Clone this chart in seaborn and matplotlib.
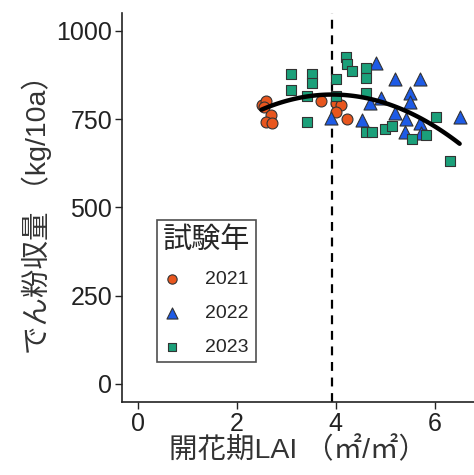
import matplotlib
matplotlib.use("Agg")
import matplotlib.pyplot as plt
import seaborn as sns
import pandas as pd

# 2021
x2021 = [2.50, 2.60, 2.55, 2.70, 2.60, 2.72, 3.71, 4.01, 4.11, 4.01, 4.22]
y2021 = [790, 800, 785, 762, 743, 740, 802, 795, 790, 771, 751]
# 2022
x2022 = [3.91, 4.82, 5.19, 5.70, 5.49, 5.49, 4.92, 4.69, 4.52, 5.19, 5.41, 5.70, 5.39, 5.73, 6.50]
y2022 = [752, 910, 863, 863, 823, 797, 809, 795, 748, 767, 750, 738, 712, 710, 755]
# 2023
x2023 = [3.10, 3.51, 3.51, 3.10, 3.41, 3.41, 4.01, 4.01, 4.20, 4.22, 4.32, 4.61, 4.61, 4.61,
         4.61, 4.74, 4.99, 5.13, 5.53, 5.82, 6.02, 6.30]
y2023 = [877, 877, 852, 833, 814, 743, 863, 814, 927, 906, 885, 894, 866, 823,
         712, 712, 721, 729, 693, 705, 755, 630]

years = ["2021", "2022", "2023"]
colors = ["#E8561E", "#1E5BE6", "#1BA07A"]
markers = ["o", "^", "s"]
sizes = [62, 88, 58]

xticks = [0, 2, 4, 6]
yticks = [0, 250, 500, 750, 1000]
vline_x = 3.93

df = pd.DataFrame({
    "LAI": x2021 + x2022 + x2023,
    "yield": y2021 + y2022 + y2023,
    "year": ["2021"] * len(x2021) + ["2022"] * len(x2022) + ["2023"] * len(x2023),
})

sns.set_theme(style="ticks")
plt.rcParams["font.family"] = ["Liberation Sans", "Noto Sans CJK JP", "DejaVu Sans"]

fig = plt.figure(figsize=(4.74, 4.75), dpi=100)
ax = fig.add_axes([0.257, 0.154, 0.743, 0.819])

ax.axvline(vline_x, color="black", ls=(0, (4, 3)), lw=1.6, zorder=1)

for yr, c, m, s in zip(years, colors, markers, sizes):
    sub = df[df["year"] == yr]
    sns.scatterplot(data=sub, x="LAI", y="yield", color=c, marker=m, s=s,
                    edgecolor="#333333", linewidth=0.8, ax=ax, label=yr, zorder=3)

sns.regplot(data=df, x="LAI", y="yield", order=2, ci=None, scatter=False,
            color="black", line_kws={"lw": 3.2, "zorder": 4}, ax=ax)

ax.set_xlim(-0.32, 6.79)
ax.set_ylim(-51, 1051)
ax.set_xticks(xticks)
ax.set_yticks(yticks)
ax.tick_params(labelsize=18, colors="#222222", length=5, width=1, pad=2)
for sp in ["top", "right"]:
    ax.spines[sp].set_visible(False)
for sp in ["left", "bottom"]:
    ax.spines[sp].set_color("#222222")
    ax.spines[sp].set_linewidth(1.2)

ax.set_xlabel("開花期LAI （㎡/㎡）", fontsize=20.5, color="#333333", labelpad=1)
ax.set_ylabel("でん粉収量 （kg/10a）", fontsize=20.5, color="#333333", labelpad=3)

leg = ax.legend(title="試験年", loc="upper left", bbox_to_anchor=(0.099, 0.468),
                borderaxespad=0, fontsize=14, title_fontsize=21, frameon=True,
                fancybox=False, edgecolor="#222222", handlelength=1.0,
                handletextpad=1.2, labelspacing=0.85, markerscale=0.85,
                borderpad=0.3)
leg._legend_box.align = "left"
leg.get_frame().set_linewidth(1.2)

fig.savefig("out.png", dpi=100)
